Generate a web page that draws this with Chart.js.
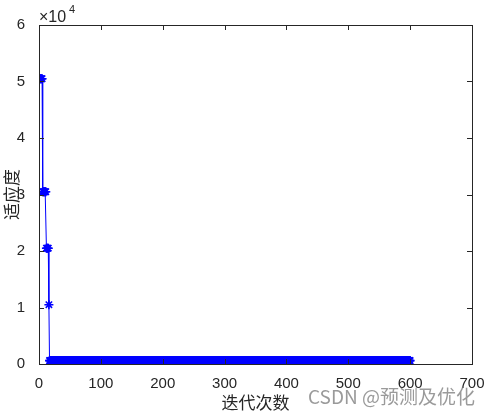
<!DOCTYPE html>
<html lang="zh">
<head>
  <meta charset="UTF-8" />
  <title>适应度曲线</title>
  <script src="https://cdn.jsdelivr.net/npm/chart.js"></script>
  <style>
    body { margin: 0; background: #fff; }
    .wrap { position: relative; width: 496px; height: 414px; }
    .mark {
      position: absolute; left: 308px; top: 382px;
      font: 19px "Noto Sans CJK SC", "Liberation Sans", sans-serif;
      color: rgba(120,120,120,0.75); white-space: nowrap;
    }
  </style>
</head>
<body>
<div class="wrap">
  <canvas id="fit" width="496" height="414"></canvas>
  <div class="mark">CSDN @预测及优化</div>
</div>
<script>
// fitness stays flat over runs of iterations: last iteration of each run and its value
const runEnds = [5, 11, 15, 16, 600];
const runValues = [50500, 30500, 20500, 10500, 600];
const xTicks = [0, 100, 200, 300, 400, 500, 600, 700];
const yTicks = [0, 1, 2, 3, 4, 5, 6]; // x 10^4

const points = [];
let it = 1;
runEnds.forEach((end, k) => {
  for (; it <= end; it++) points.push({ x: it, y: runValues[k] });
});

const ink = '#262626';
const tickFont = { family: '"Liberation Sans", Arial, sans-serif', size: 15 };

// MATLAB-like box with inward ticks, exponent and axis labels
const boxPlugin = {
  id: 'box',
  afterDraw(chart) {
    const { ctx, chartArea: a, scales: { x, y } } = chart;
    ctx.save();
    ctx.strokeStyle = ink;
    ctx.lineWidth = 1;
    ctx.strokeRect(a.left + 0.5, a.top + 0.5, a.right - a.left, a.bottom - a.top);
    ctx.beginPath();
    xTicks.forEach(v => {
      const px = Math.round(x.getPixelForValue(v)) + 0.5;
      ctx.moveTo(px, a.bottom); ctx.lineTo(px, a.bottom - 5);
      ctx.moveTo(px, a.top); ctx.lineTo(px, a.top + 5);
    });
    yTicks.forEach(v => {
      const py = Math.round(y.getPixelForValue(v * 1e4)) + 0.5;
      ctx.moveTo(a.left, py); ctx.lineTo(a.left + 5, py);
      ctx.moveTo(a.right, py); ctx.lineTo(a.right - 5, py);
    });
    ctx.stroke();

    ctx.fillStyle = ink;
    ctx.font = '16px "Liberation Sans", Arial, sans-serif';
    ctx.textBaseline = 'alphabetic';
    ctx.textAlign = 'left';
    ctx.fillText('\u00d710', a.left, a.top - 3);
    ctx.font = '11px "Liberation Sans", Arial, sans-serif';
    ctx.fillText('4', a.left + 30, a.top - 12);

    ctx.font = '17px "Noto Sans CJK SC", serif';
    ctx.textAlign = 'center';
    ctx.textBaseline = 'middle';
    ctx.fillText('迭代次数', (a.left + a.right) / 2, 403);
    ctx.translate(12, (a.top + a.bottom) / 2);
    ctx.rotate(-Math.PI / 2);
    ctx.fillText('适应度', 0, 0);
    ctx.restore();
  }
};

new Chart(document.getElementById('fit'), {
  type: 'line',
  data: {
    datasets: [{
      data: points,
      borderColor: '#0000ff',
      backgroundColor: '#0000ff',
      borderWidth: 1,
      pointStyle: 'star',
      pointRadius: 4.5,
      pointBorderWidth: 1.6,
      pointBorderColor: '#0000ff',
      tension: 0
    }]
  },
  options: {
    responsive: false,
    animation: false,
    events: [],
    layout: { padding: { top: 25, right: 24, left: 0, bottom: 0 } },
    plugins: { legend: { display: false }, tooltip: { enabled: false } },
    scales: {
      x: {
        type: 'linear', min: 0, max: 700,
        afterBuildTicks: s => { s.ticks = xTicks.map(v => ({ value: v })); },
        afterFit: s => { s.height = 50; },
        grid: { display: false },
        border: { display: false },
        ticks: { color: ink, font: tickFont, padding: 3, maxRotation: 0 }
      },
      y: {
        type: 'linear', min: 0, max: 60000,
        afterBuildTicks: s => { s.ticks = yTicks.map(v => ({ value: v * 1e4 })); },
        afterFit: s => { s.width = 39; },
        grid: { display: false },
        border: { display: false },
        ticks: { color: ink, font: tickFont, padding: 6, callback: v => String(v / 1e4) }
      }
    }
  },
  plugins: [boxPlugin]
});
</script>
</body>
</html>
